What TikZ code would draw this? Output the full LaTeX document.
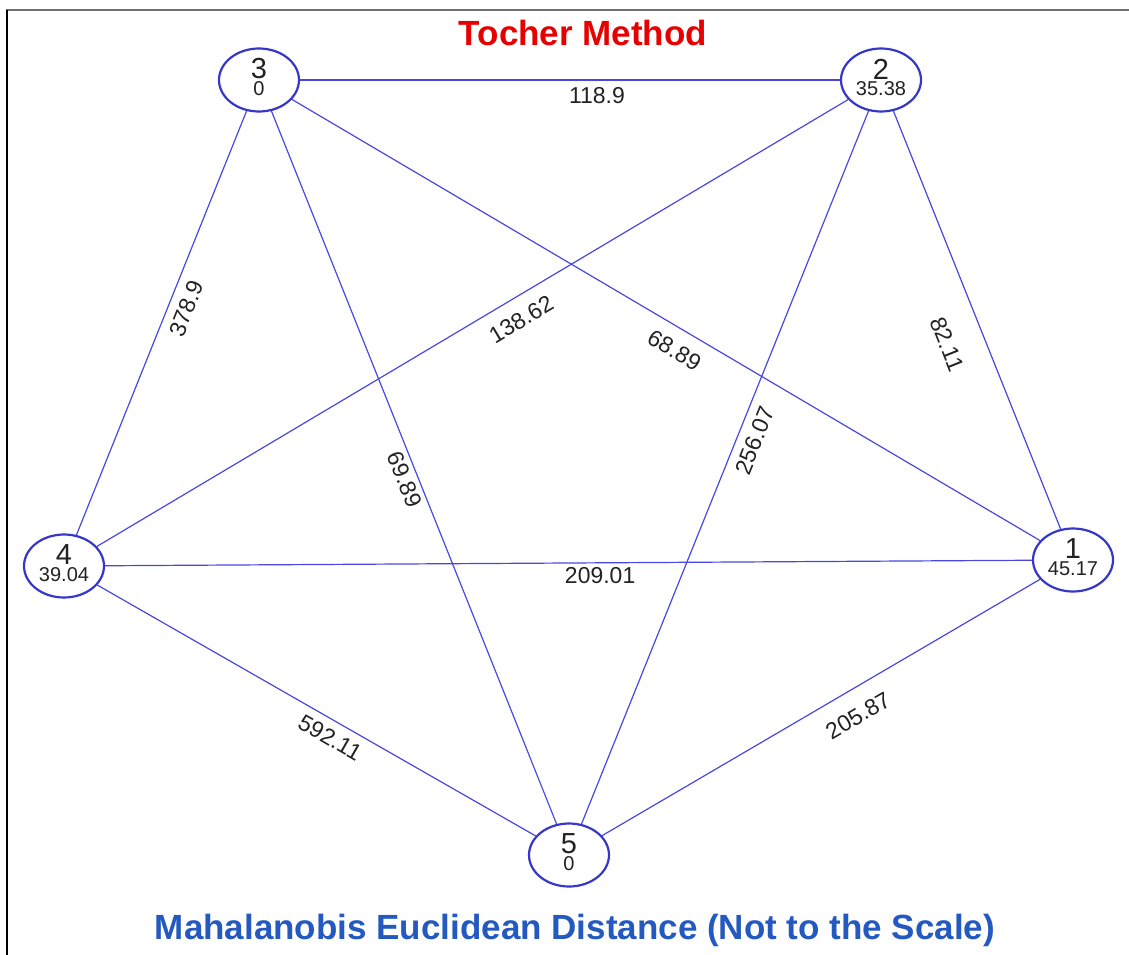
\documentclass[tikz,border=0pt]{standalone}
\usepackage{fontspec}
\setmainfont{Liberation Sans}
\usetikzlibrary{shapes.geometric}
\definecolor{tmred}{HTML}{E60000}
\definecolor{tmblue}{HTML}{2459C0}
\definecolor{tmring}{HTML}{3636C8}
\definecolor{tmlink}{HTML}{4848E0}
\definecolor{tmtext}{HTML}{222222}
\definecolor{tmframe}{HTML}{707070}

\begin{document}
\begin{tikzpicture}[x=1pt, y=-1pt,
    cluster/.style n args={2}{
      ellipse, draw=tmring, line width=2.2pt, fill=white,
      minimum width=80pt, minimum height=63pt, inner sep=0pt,
      label={[numlbl]center:#1}, label={[vallbl]center:#2}
    },
    numlbl/.style={font=\fontsize{29}{29}\selectfont\color{tmtext}, inner sep=0pt, yshift=11pt},
    vallbl/.style={font=\fontsize{20}{20}\selectfont\color{tmtext}, inner sep=0pt, yshift=-9pt},
    link/.style={draw=tmlink, line width=1.2pt},
    dist/.style={font=\fontsize{23}{23}\selectfont\color{tmtext}, sloped, inner sep=0pt},
    heading/.style={font=\bfseries\fontsize{35}{35}\selectfont\color{tmred}},
    caption/.style={font=\bfseries\fontsize{35}{35}\selectfont\color{tmblue}}
  ]
  \useasboundingbox (0,0) rectangle (1129,955);
  \draw[tmframe, line width=2pt] (6,10) -- (1129,10);
  \draw[black, line width=2pt] (7,10) -- (7,955);

  \node[heading] (head) at (583,33) {Tocher Method};
  \node[caption] (foot) at (575,930) {Mahalanobis Euclidean Distance (Not to the Scale)};

  % clusters: number and intra-cluster distance
  \node[cluster={1}{45.17}] (c1) at (1073,560) {};
  \node[cluster={2}{35.38}] (c2) at (881,80) {};
  \node[cluster={3}{0}] (c3) at (259,80) {};
  \node[cluster={4}{39.04}] (c4) at (64,566) {};
  \node[cluster={5}{0}] (c5) at (569,855) {};

  % inter-cluster distances
  \draw[link] (c3) -- node[dist, pos=0.55, below=7pt] {118.9} (c2);
  \draw[link] (c3) -- node[dist, pos=0.526, below=13pt] {68.89} (c1);
  \draw[link] (c2) -- node[dist, pos=0.45, below=13pt] {138.62} (c4);
  \draw[link] (c2) -- node[dist, pos=0.453, below=9pt] {256.07} (c5);
  \draw[link] (c3) -- node[dist, pos=0.45, below=9pt] {378.9} (c4);
  \draw[link] (c3) -- node[dist, pos=0.51, below=4pt] {69.89} (c5);
  \draw[link] (c2) -- node[dist, pos=0.525, below=28pt] {82.11} (c1);
  \draw[link] (c4) -- node[dist, pos=0.534, below=4pt] {209.01} (c1);
  \draw[link] (c4) -- node[dist, pos=0.55, below=8pt] {592.11} (c5);
  \draw[link] (c5) -- node[dist, pos=0.555, below=17pt] {205.87} (c1);
\end{tikzpicture}
\end{document}
